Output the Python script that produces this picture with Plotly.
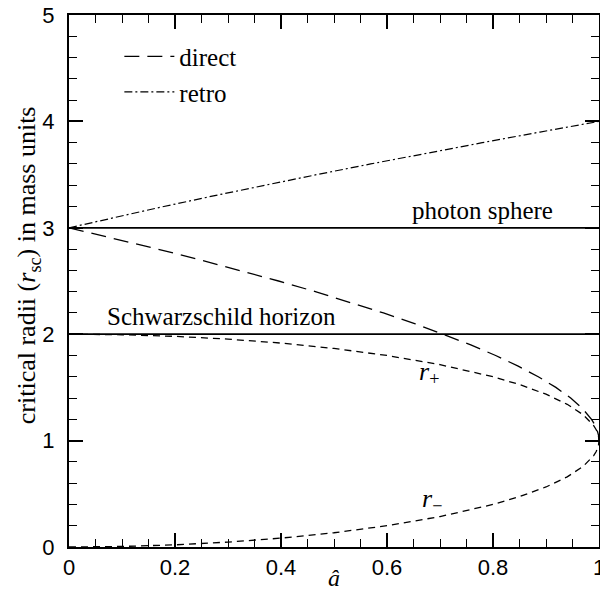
import plotly.graph_objects as go

# direct (prograde) photon orbit radius vs spin
direct_a = [0.0, 0.0851, 0.1673, 0.2465, 0.3225, 0.3953, 0.4648, 0.5308, 0.5933, 0.6521,
            0.7071, 0.7581, 0.8050, 0.8475, 0.8854, 0.9186, 0.9466, 0.9691, 0.9859, 0.9920,
            0.9964, 0.9991, 1.0]
direct_r = [3.0, 2.9, 2.8, 2.7, 2.6, 2.5, 2.4, 2.3, 2.2, 2.1,
            2.0, 1.9, 1.8, 1.7, 1.6, 1.5, 1.4, 1.3, 1.2, 1.15,
            1.1, 1.05, 1.0]

# retrograde photon orbit radius vs spin
retro_a = [0.0, 0.0880, 0.1789, 0.2725, 0.3688, 0.4677, 0.5692, 0.6732, 0.7797, 0.8887, 1.0]
retro_r = [3.0, 3.1, 3.2, 3.3, 3.4, 3.5, 3.6, 3.7, 3.8, 3.9, 4.0]

# horizons r+ and r-
hor_a = [0.0, 0.1, 0.2, 0.3, 0.4, 0.5, 0.6, 0.7, 0.8, 0.85, 0.9, 0.94, 0.97, 0.99, 0.995, 0.999, 1.0]
r_plus = [2.0, 1.9950, 1.9798, 1.9539, 1.9165, 1.8660, 1.8, 1.7141, 1.6, 1.5268, 1.4359,
          1.3412, 1.2431, 1.1411, 1.0999, 1.0447, 1.0]
r_minus = [0.0, 0.0050, 0.0202, 0.0461, 0.0835, 0.1340, 0.2, 0.2859, 0.4, 0.4732, 0.5641,
           0.6588, 0.7569, 0.8589, 0.9001, 0.9553, 1.0]

# reference radii
ref_a = [0.0, 1.0]
photon_sphere = [3.0, 3.0]
schwarzschild = [2.0, 2.0]

x_ticks = [0, 0.2, 0.4, 0.6, 0.8, 1]
x_tick_labels = ["0", "0.2", "0.4", "0.6", "0.8", "1"]
y_ticks = [0, 1, 2, 3, 4, 5]
y_tick_labels = ["0", "1", "2", "3", "4", "5"]

SERIF = "Liberation Serif"
SANS = "Liberation Sans"

fig = go.Figure()
fig.add_trace(go.Scatter(x=ref_a, y=photon_sphere, mode="lines", showlegend=False,
                         line=dict(color="black", width=1.8)))
fig.add_trace(go.Scatter(x=ref_a, y=schwarzschild, mode="lines", showlegend=False,
                         line=dict(color="black", width=1.8)))
fig.add_trace(go.Scatter(x=direct_a, y=direct_r, mode="lines", name="direct",
                         line=dict(color="black", width=1.3, dash="15px,8px")))
fig.add_trace(go.Scatter(x=retro_a, y=retro_r, mode="lines", name="retro",
                         line=dict(color="black", width=1.2, dash="8px,3px,2px,3px")))
fig.add_trace(go.Scatter(x=hor_a, y=r_plus, mode="lines", showlegend=False,
                         line=dict(color="black", width=1.3, dash="7px,5px")))
fig.add_trace(go.Scatter(x=hor_a, y=r_minus, mode="lines", showlegend=False,
                         line=dict(color="black", width=1.3, dash="7px,5px")))

ann_font = dict(family=SERIF, size=25, color="black")
fig.add_annotation(x=0.78, y=3.02, text="photon sphere", showarrow=False,
                   xanchor="center", yanchor="bottom", font=ann_font)
fig.add_annotation(x=0.288, y=2.02, text="Schwarzschild horizon", showarrow=False,
                   xanchor="center", yanchor="bottom", font=ann_font)
fig.add_annotation(x=0.68, y=1.64, text="<i>r</i><sub>+</sub>", showarrow=False,
                   xanchor="center", yanchor="middle", font=dict(family=SERIF, size=26, color="black"))
fig.add_annotation(x=0.685, y=0.44, text="<i>r</i><sub>−</sub>", showarrow=False,
                   xanchor="center", yanchor="middle", font=dict(family=SERIF, size=26, color="black"))

# axis titles placed as annotations to match the reference positions
fig.add_annotation(x=-0.077, y=0.53, xref="paper", yref="paper", textangle=-90,
                   text="critical radii (<i>r</i><sub>sc</sub>) in mass units", showarrow=False,
                   xanchor="center", yanchor="middle", font=dict(family=SERIF, size=26, color="black"))
fig.add_annotation(x=0.5, y=-0.0865, xref="paper", yref="paper",
                   text="<i>â</i>", showarrow=False,
                   xanchor="center", yanchor="bottom", font=dict(family=SERIF, size=24, color="black"))

axis_common = dict(showline=True, linecolor="black", linewidth=2, mirror="allticks",
                   ticks="inside", ticklen=14, tickwidth=1.5, tickcolor="black",
                   showgrid=False, zeroline=False, ticklabeloverflow="allow", automargin=False,
                   tickfont=dict(family=SANS, size=22, color="black"))

fig.update_xaxes(range=[0, 1], tickvals=x_ticks, ticktext=x_tick_labels,
                 minor=dict(dtick=0.05, ticks="inside", ticklen=8, tickwidth=1.2, tickcolor="black"),
                 **axis_common)
fig.update_yaxes(range=[0, 5], tickvals=y_ticks, ticktext=y_tick_labels,
                 minor=dict(dtick=0.2, ticks="inside", ticklen=8, tickwidth=1.2, tickcolor="black"),
                 ticklabelstandoff=8,
                 **axis_common)

fig.update_layout(width=600, height=596, margin=dict(l=69, r=1, t=15, b=49),
                  plot_bgcolor="white", paper_bgcolor="white",
                  legend=dict(x=0.095, y=0.965, xanchor="left", yanchor="top",
                              bgcolor="rgba(0,0,0,0)", font=dict(family=SERIF, size=25, color="black"),
                              itemwidth=50, tracegroupgap=0))

fig.write_html("out.html")
